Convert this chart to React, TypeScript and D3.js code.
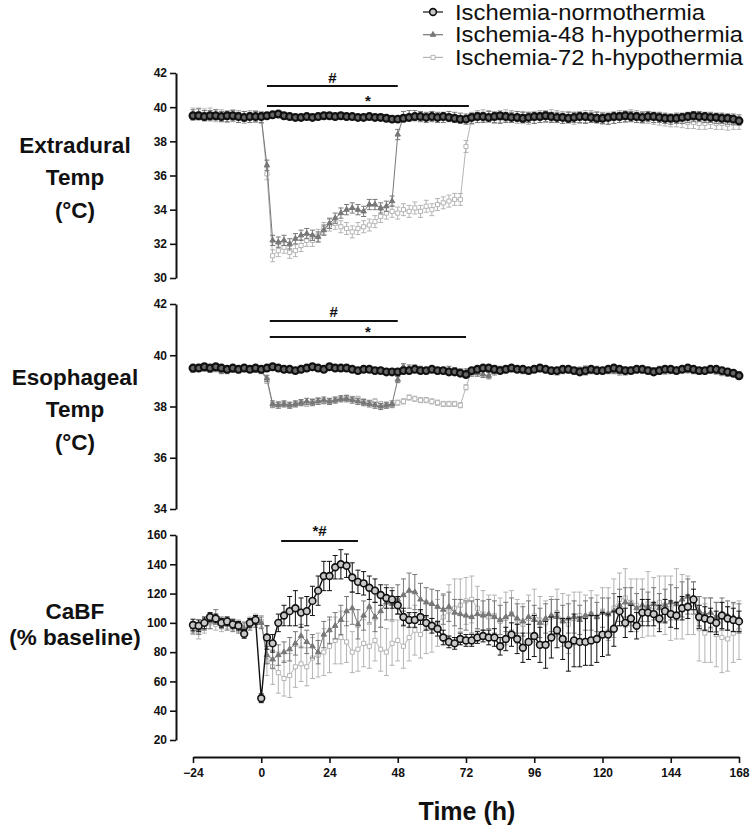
import React, { useEffect, useRef } from "react";
import * as d3 from "d3";

// time grid (h), 2 h steps
const hours = [
  -24, -22, -20, -18, -16, -14, -12, -10, -8, -6, -4, -2,
  0, 2, 4, 6, 8, 10, 12, 14, 16, 18, 20, 22, 24, 26, 28, 30, 32, 34, 36, 38,
  40, 42, 44, 46, 48, 50, 52, 54, 56, 58, 60, 62, 64, 66, 68, 70, 72, 74, 76, 78,
  80, 82, 84, 86, 88, 90, 92, 94, 96, 98, 100, 102, 104, 106, 108, 110, 112, 114, 116, 118,
  120, 122, 124, 126, 128, 130, 132, 134, 136, 138, 140, 142, 144, 146, 148, 150, 152, 154, 156, 158,
  160, 162, 164, 166, 168,
];
const xTicks = [-24, 0, 24, 48, 72, 96, 120, 144, 168];

// Extradural temperature (°C)
const extNormo = [
  39.5, 39.5, 39.45, 39.5, 39.5, 39.45, 39.5, 39.5, 39.45, 39.4, 39.45, 39.45,
  39.45, 39.5, 39.55, 39.6, 39.5, 39.45, 39.4, 39.4, 39.45, 39.4,
  39.45, 39.5, 39.5, 39.45, 39.5, 39.45, 39.45, 39.4, 39.4, 39.45,
  39.4, 39.4, 39.35, 39.3, 39.3, 39.35, 39.4, 39.45, 39.45, 39.4,
  39.45, 39.4, 39.45, 39.4, 39.35, 39.3, 39.3, 39.4, 39.45, 39.45,
  39.4, 39.45, 39.5, 39.45, 39.4, 39.4, 39.35, 39.4, 39.45, 39.45,
  39.5, 39.45, 39.4, 39.4, 39.35, 39.4, 39.45, 39.45, 39.4, 39.35,
  39.35, 39.4, 39.45, 39.45, 39.5, 39.45, 39.45, 39.4, 39.45, 39.45,
  39.4, 39.35, 39.35, 39.35, 39.4, 39.45, 39.5, 39.45, 39.45, 39.4,
  39.4, 39.35, 39.35, 39.3, 39.2,
];
const ext48 = [
  39.55, 39.6, 39.5, 39.5, 39.55, 39.45, 39.45, 39.5, 39.4, 39.45, 39.4, 39.45,
  39.4, 36.6,
  32.2, 32.1, 32.2, 32.0, 32.3, 32.5, 32.6, 32.5, 32.4, 32.8, 33.2, 33.5, 33.8, 34.0, 34.1, 34.0,
  33.9, 34.3, 34.3, 34.1, 34.2, 34.5,
  38.4,
  39.45, 39.5, 39.5, 39.45, 39.4, 39.45, 39.4, 39.4, 39.45, 39.4,
  39.35, 39.3, 39.35, 39.4, 39.4, 39.45, 39.4, 39.35, 39.4, 39.4,
  39.45, 39.4, 39.4, 39.35, 39.4, 39.45, 39.4, 39.4, 39.35, 39.4,
  39.4, 39.4, 39.35, 39.4, 39.4, 39.35, 39.3, 39.35, 39.4, 39.45,
  39.45, 39.4, 39.4, 39.45, 39.4, 39.4, 39.35, 39.3, 39.35, 39.35,
  39.4, 39.45, 39.45, 39.4, 39.4, 39.35, 39.35, 39.3, 39.3, 39.25,
];
const ext72 = [
  39.6, 39.6, 39.55, 39.6, 39.5, 39.5, 39.45, 39.5, 39.45, 39.4, 39.45, 39.45,
  39.4, 36.1,
  31.3, 31.6, 31.8, 31.5, 31.6, 31.9, 32.2, 32.2, 32.5, 32.9, 33.1, 33.2, 33.0, 32.9, 32.7, 32.9, 33.0,
  33.1, 33.3, 33.6, 33.8, 33.9, 33.8, 34.0, 33.9, 34.1, 33.9, 34.2, 34.0, 34.3, 34.4, 34.5, 34.6, 34.6,
  37.7,
  39.35, 39.45, 39.5, 39.45, 39.4, 39.45, 39.5, 39.45, 39.4, 39.4,
  39.35, 39.4, 39.45, 39.45, 39.5, 39.45, 39.4, 39.4, 39.35, 39.4,
  39.45, 39.45, 39.4, 39.35, 39.35, 39.4, 39.45, 39.45, 39.5, 39.45,
  39.4, 39.4, 39.35, 39.3, 39.25, 39.2, 39.2, 39.15, 39.1, 39.1,
  39.05, 39.05, 39.1, 39.05, 39.05, 39.0, 39.05, 39.05,
];

// Esophageal temperature (°C)
const esoNormo = [
  39.5, 39.5, 39.55, 39.5, 39.55, 39.5, 39.45, 39.5, 39.45, 39.5, 39.45, 39.5,
  39.45, 39.5, 39.55, 39.5, 39.45, 39.45, 39.4, 39.45, 39.5, 39.55,
  39.5, 39.45, 39.55, 39.5, 39.5, 39.5, 39.45, 39.4, 39.45, 39.45,
  39.4, 39.4, 39.35, 39.35, 39.35, 39.4, 39.4, 39.45, 39.4, 39.4,
  39.45, 39.4, 39.4, 39.35, 39.35, 39.3, 39.25, 39.4, 39.45, 39.5,
  39.5, 39.45, 39.4, 39.45, 39.5, 39.45, 39.45, 39.4, 39.45, 39.5,
  39.45, 39.4, 39.4, 39.45, 39.45, 39.4, 39.35, 39.4, 39.45, 39.4,
  39.4, 39.45, 39.5, 39.45, 39.4, 39.4, 39.45, 39.45, 39.4, 39.35,
  39.4, 39.45, 39.45, 39.4, 39.45, 39.5, 39.45, 39.4, 39.4, 39.45,
  39.45, 39.4, 39.35, 39.3, 39.2,
];
const eso48 = [
  39.45, 39.5, 39.5, 39.45, 39.5, 39.4, 39.4, 39.45, 39.45, 39.5, 39.45, 39.45,
  39.4, 39.1,
  38.1, 38.05, 38.1, 38.05, 38.1, 38.15, 38.2, 38.15, 38.2, 38.25, 38.2, 38.25, 38.3, 38.3, 38.25, 38.2,
  38.15, 38.1, 38.05, 38.0, 38.05, 38.1,
  39.05,
  39.55, 39.5, 39.5, 39.45, 39.4, 39.45, 39.4, 39.4, 39.45, 39.4,
  39.35, 39.35, 39.3, 39.3, 39.25, 39.2, 39.35, 39.45, 39.45, 39.5,
  39.45, 39.4, 39.4, 39.45, 39.5, 39.45, 39.4, 39.35, 39.4, 39.45,
  39.4, 39.4, 39.35, 39.4, 39.45, 39.4, 39.4, 39.4, 39.35, 39.35,
  39.4, 39.45, 39.45, 39.4, 39.4, 39.45, 39.45, 39.4, 39.4, 39.45,
  39.45, 39.4, 39.4, 39.4, 39.45, 39.4, 39.35, 39.3, 39.3, 39.25,
];
const eso72 = [
  39.5, 39.55, 39.5, 39.5, 39.45, 39.4, 39.45, 39.45, 39.4, 39.45, 39.5, 39.45,
  39.4, 39.0,
  38.05, 38.1, 38.1, 38.05, 38.1, 38.15, 38.1, 38.2, 38.25, 38.2, 38.2, 38.25, 38.3, 38.35, 38.3, 38.3, 38.2,
  38.15, 38.2, 38.1, 38.05, 38.05, 38.15, 38.2, 38.35, 38.3, 38.25, 38.25, 38.2, 38.15, 38.1, 38.1, 38.1, 38.05,
  38.75,
  39.4, 39.45, 39.5, 39.45, 39.5, 39.45, 39.4, 39.45, 39.45, 39.4,
  39.4, 39.45, 39.45, 39.4, 39.35, 39.4, 39.45, 39.4, 39.4, 39.45,
  39.5, 39.45, 39.4, 39.4, 39.45, 39.4, 39.4, 39.45, 39.45, 39.4,
  39.4, 39.45, 39.4, 39.35, 39.35, 39.4, 39.45, 39.45, 39.4, 39.4,
  39.35, 39.4, 39.4, 39.35, 39.3, 39.3, 39.25, 39.25,
];

// CaBF (% baseline)
const cbfNormo = [
  98.5, 98, 100, 104, 103, 100, 101, 99, 98, 92.5, 100, 102,
  48.5, 90, 86, 100, 105, 108, 110, 107, 108, 115,
  122, 132, 132, 138, 140, 139, 131, 128, 127, 124,
  122, 119, 117, 116, 112, 104, 102, 102, 104, 100,
  98, 96, 90, 87, 86, 89, 88, 88, 90, 91,
  90, 90, 84, 89, 92, 89, 83, 87, 91, 85,
  85, 90, 95, 89, 85, 88, 87, 87, 88, 89,
  92, 92, 96, 108, 100, 103, 98, 107, 107, 106,
  103, 108, 106, 105, 110, 111, 116, 104, 103, 102,
  100, 105, 103, 102, 101,
];
const cbfNormoErr = [
  4, 4, 4, 3, 3, 3, 3, 3, 3, 3, 3, 3,
  3, 8, 6, 6, 7, 10, 12, 10, 10, 10,
  10, 10, 10, 8, 10, 8, 10, 8, 8, 8,
  8, 7, 7, 6, 6, 6, 5, 5, 5, 5,
  5, 5, 5, 4, 4, 4, 4, 4, 4, 4,
  5, 6, 6, 8, 8, 10, 10, 12, 14, 12,
  16, 14, 12, 14, 18, 18, 17, 16, 17, 16,
  15, 14, 12, 10, 10, 9, 9, 9, 9, 8,
  9, 8, 9, 9, 8, 8, 7, 8, 8, 8,
  8, 9, 8, 8, 7,
];
const cbf48 = [
  97, 96, 99, 101, 104, 100, 99, 98, 97, 96, 99, 101,
  100, 78, 75, 78, 80, 82, 86, 91, 87, 84,
  80, 92, 95, 98, 102, 108, 110, 99, 105, 111,
  104, 108, 114, 113, 116, 119, 122, 121, 116, 114,
  113, 111, 109, 111, 107, 106, 105, 104, 106, 105,
  106, 104, 102, 104, 106, 103, 101, 104, 102, 100,
  103, 105, 104, 101, 103, 104, 102, 105, 106, 104,
  107, 106, 108, 112, 114, 113, 110, 112, 111, 113,
  110, 112, 114, 113, 116, 118, 117, 108, 106, 107,
  104, 106, 105, 104, 103,
];
const cbf48Err = [
  4, 4, 4, 5, 5, 4, 4, 4, 4, 4, 4, 4,
  4, 6, 6, 7, 7, 8, 8, 8, 8, 8,
  8, 9, 9, 9, 10, 10, 11, 10, 10, 11,
  10, 11, 12, 11, 10, 11, 12, 12, 11, 10,
  10, 11, 10, 10, 9, 10, 10, 11, 10, 10,
  10, 11, 10, 10, 11, 10, 10, 11, 10, 10,
  10, 11, 12, 11, 10, 11, 10, 10, 11, 10,
  10, 11, 12, 11, 10, 11, 10, 11, 10, 11,
  10, 11, 12, 11, 12, 12, 11, 10, 11, 10,
  10, 11, 10, 10, 10,
];
const cbf72 = [
  96, 94, 97, 100, 99, 98, 100, 99, 98, 97, 100, 102,
  101, 74, 70, 66, 62, 64, 70, 72, 70, 76,
  78, 80, 84, 88, 90, 87, 80, 82, 86, 84,
  88, 82, 80, 86, 88, 84, 90, 95, 92, 97,
  96, 100, 104, 108, 110, 112, 115, 116, 110, 106,
  104, 105, 101, 103, 106, 101, 99, 103, 105, 102,
  100, 104, 107, 102, 99, 103, 105, 104, 106, 104,
  108, 106, 110, 116, 117, 114, 112, 110, 113, 111,
  114, 112, 110, 113, 111, 112, 110, 96, 93, 95,
  92, 90, 89, 93, 95,
];
const cbf72Err = [
  4, 5, 4, 4, 4, 4, 4, 4, 4, 4, 4, 4,
  4, 10, 12, 14, 12, 15, 14, 12, 13, 14,
  15, 16, 18, 16, 18, 14, 14, 15, 16, 15,
  14, 15, 16, 15, 14, 15, 16, 17, 16, 18,
  16, 16, 16, 18, 20, 18, 16, 16, 15, 16,
  15, 14, 16, 18, 16, 15, 14, 16, 18, 16,
  15, 14, 16, 18, 20, 18, 16, 15, 16, 15,
  16, 18, 20, 18, 20, 16, 18, 20, 22, 20,
  18, 20, 22, 24, 22, 20, 18, 22, 20, 22,
  22, 24, 22, 20, 20,
];

const legendLabels = ["Ischemia-normothermia", "Ischemia-48 h-hypothermia", "Ischemia-72 h-hypothermia"];
const FONT = "'Liberation Sans', Arial, Helvetica, sans-serif";

type Style = { color: string; shape: "circle" | "triangle" | "square"; fill: string; size: number; lw: number; cap: number };
const styles: Style[] = [
  { color: "#111", shape: "circle", fill: "#c8c8c8", size: 36, lw: 1.6, cap: 2.5 },
  { color: "#777", shape: "triangle", fill: "#777", size: 13, lw: 1, cap: 2.5 },
  { color: "#b4b4b4", shape: "square", fill: "#fff", size: 17, lw: 1, cap: 2.5 },
];

export default function App() {
  const ref = useRef<SVGSVGElement>(null);

  useEffect(() => {
    const svg = d3.select(ref.current);
    svg.selectAll("*").remove();

    const x = d3.scaleLinear().domain([-24, 168]).range([193, 739]);

    const panels = [
      {
        y: d3.scaleLinear().domain([30, 42]).range([278, 73]),
        ticks: [30, 32, 34, 36, 38, 40, 42],
        series: [ext72, ext48, extNormo],
        errs: [0.35, 0.3, 0.08] as (number | number[])[],
        dense: true,
        title: ["Extradural", "Temp", "(°C)"],
        titleY: [153, 185, 218],
        bars: [
          { from: 2, to: 48, y: 86, label: "#", ly: 83 },
          { from: 2, to: 73, y: 106, label: "*", ly: 106 },
        ],
      },
      {
        y: d3.scaleLinear().domain([34, 42]).range([509, 304]),
        ticks: [34, 36, 38, 40, 42],
        series: [eso72, eso48, esoNormo],
        errs: [0.1, 0.12, 0.08] as (number | number[])[],
        dense: true,
        title: ["Esophageal", "Temp", "(°C)"],
        titleY: [385, 417, 450],
        bars: [
          { from: 3, to: 48, y: 321, label: "#", ly: 317 },
          { from: 3, to: 72, y: 337, label: "*", ly: 337 },
        ],
      },
      {
        y: d3.scaleLinear().domain([20, 160]).range([740, 535]),
        ticks: [20, 40, 60, 80, 100, 120, 140, 160],
        series: [cbf72, cbf48, cbfNormo],
        errs: [cbf72Err, cbf48Err, cbfNormoErr] as (number | number[])[],
        dense: false,
        title: ["CaBF", "(% baseline)"],
        titleY: [619, 645],
        bars: [{ from: 7, to: 34, y: 541, label: "*#", ly: 536 }],
      },
    ];

    const symbolType = { circle: d3.symbolCircle, triangle: d3.symbolTriangle, square: d3.symbolSquare };

    panels.forEach((p) => {
      const g = svg.append("g");
      const yAxis = d3.axisLeft(p.y).tickValues(p.ticks).tickSize(6).tickSizeOuter(0).tickPadding(3);
      const ag = g.append("g").attr("transform", "translate(176,0)").call(yAxis);
      ag.select(".domain").attr("stroke-width", 2).attr("stroke", "#111");
      ag.selectAll(".tick line").attr("stroke-width", 1.6).attr("stroke", "#111");
      ag.selectAll(".tick text").attr("font-family", FONT).attr("font-weight", "bold").attr("font-size", 12).attr("fill", "#111");

      p.title.forEach((t, i) => {
        g.append("text")
          .attr("x", 75)
          .attr("y", p.titleY[i])
          .attr("text-anchor", "middle")
          .attr("font-family", FONT)
          .attr("font-weight", "bold")
          .attr("font-size", 22.5)
          .attr("fill", "#111")
          .text(t);
      });

      // series: 72h, 48h, normothermia (drawn on top)
      p.series.forEach((vals, si) => {
        const st = styles[2 - si];
        const isNormo = si === 2;
        const errOf = (i: number) => {
          const e = p.errs[si];
          return typeof e === "number" ? e : e[i];
        };
        const sg = g.append("g");
        const pts = vals.map((v, i) => ({ t: hours[i], v, e: errOf(i) }));

        const eb = sg.append("g").attr("stroke", st.color).attr("stroke-width", 1).attr("fill", "none");
        pts.forEach((d) => {
          const cx = x(d.t);
          const y0 = p.y(d.v - d.e);
          const y1 = p.y(d.v + d.e);
          eb.append("line").attr("x1", cx).attr("x2", cx).attr("y1", y0).attr("y2", y1);
          eb.append("line").attr("x1", cx - st.cap).attr("x2", cx + st.cap).attr("y1", y0).attr("y2", y0);
          eb.append("line").attr("x1", cx - st.cap).attr("x2", cx + st.cap).attr("y1", y1).attr("y2", y1);
        });

        const line = d3
          .line<{ t: number; v: number }>()
          .x((d) => x(d.t))
          .y((d) => p.y(d.v));
        sg.append("path")
          .datum(pts)
          .attr("fill", "none")
          .attr("stroke", st.color)
          .attr("stroke-width", isNormo ? (p.dense ? 3 : 1.4) : 1)
          .attr("d", line);

        const sym = d3.symbol().type(symbolType[st.shape]).size(st.size);
        sg.selectAll("path.m")
          .data(pts)
          .join("path")
          .attr("class", "m")
          .attr("transform", (d) => `translate(${x(d.t)},${p.y(d.v)})`)
          .attr("d", sym)
          .attr("fill", isNormo && p.dense ? "#666" : st.fill)
          .attr("stroke", st.color)
          .attr("stroke-width", isNormo && p.dense ? 2.2 : st.lw);
      });

      p.bars.forEach((b) => {
        g.append("line")
          .attr("x1", x(b.from))
          .attr("x2", x(b.to))
          .attr("y1", b.y)
          .attr("y2", b.y)
          .attr("stroke", "#111")
          .attr("stroke-width", 2);
        g.append("text")
          .attr("x", (x(b.from) + x(b.to)) / 2)
          .attr("y", b.ly)
          .attr("text-anchor", "middle")
          .attr("font-family", FONT)
          .attr("font-weight", "bold")
          .attr("font-size", 15)
          .attr("fill", "#111")
          .text(b.label);
      });
    });

    // x axis
    const xg = svg
      .append("g")
      .attr("transform", "translate(0,757)")
      .call(d3.axisBottom(x).tickValues(xTicks).tickSize(6).tickSizeOuter(0).tickPadding(5).tickFormat(d3.format("d")));
    xg.select(".domain").attr("stroke-width", 2).attr("stroke", "#111");
    xg.selectAll(".tick line").attr("stroke-width", 1.6).attr("stroke", "#111");
    xg.selectAll(".tick text").attr("font-family", FONT).attr("font-weight", "bold").attr("font-size", 12).attr("fill", "#111");

    svg.append("text")
      .attr("x", 467)
      .attr("y", 820)
      .attr("text-anchor", "middle")
      .attr("font-family", FONT)
      .attr("font-weight", "bold")
      .attr("font-size", 25)
      .attr("fill", "#111")
      .text("Time (h)");

    // legend
    const lw = [250, 288, 288];
    legendLabels.forEach((lab, i) => {
      const st = styles[i];
      const ly = 12 + i * 22.7;
      const lg = svg.append("g");
      lg.append("line").attr("x1", 423).attr("x2", 443).attr("y1", ly).attr("y2", ly).attr("stroke", st.color).attr("stroke-width", 1.2);
      lg.append("path")
        .attr("transform", `translate(433,${ly})`)
        .attr("d", d3.symbol().type(symbolType[st.shape]).size(st.size)())
        .attr("fill", st.fill)
        .attr("stroke", st.color)
        .attr("stroke-width", st.lw);
      lg.append("text")
        .attr("x", 455)
        .attr("y", ly + 7.5)
        .attr("font-family", FONT)
        .attr("font-size", 21.5)
        .attr("fill", "#111")
        .attr("textLength", lw[i])
        .attr("lengthAdjust", "spacingAndGlyphs")
        .text(lab);
    });
  }, []);

  return (
    <svg
      ref={ref}
      width={751}
      height={828}
      style={{ position: "absolute", left: 0, top: 0, background: "#fff" }}
    />
  );
}
